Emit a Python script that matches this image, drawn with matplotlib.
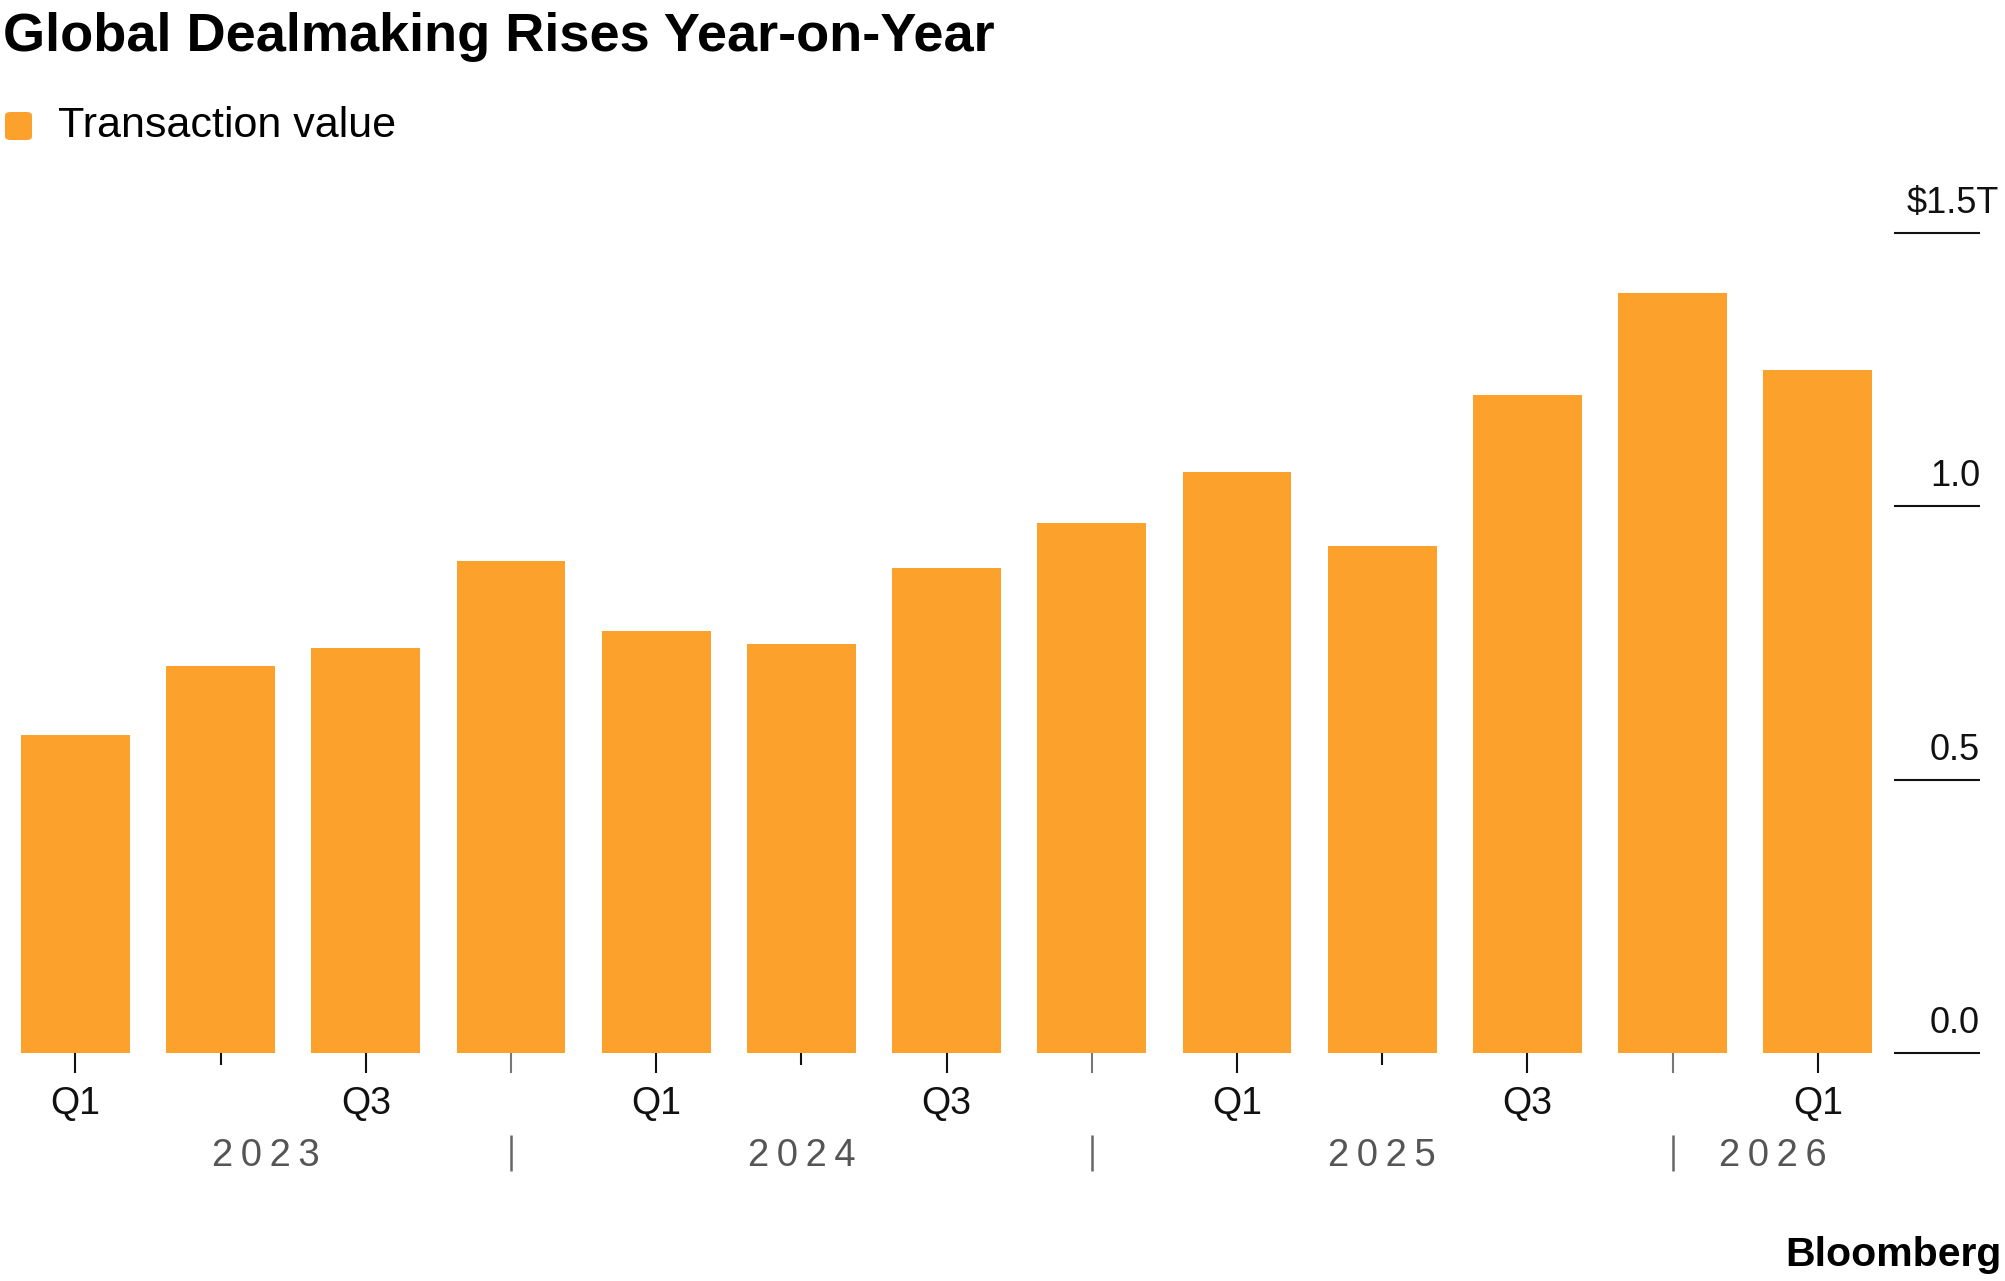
import matplotlib
matplotlib.use("Agg")
import matplotlib.pyplot as plt
from matplotlib.patches import FancyBboxPatch
import numpy as np

plt.rcParams['font.family'] = ['Liberation Sans', 'DejaVu Sans']

# ---- data ----
quarters = ['Q1', 'Q2', 'Q3', 'Q4'] * 3 + ['Q1']
years = [2023] * 4 + [2024] * 4 + [2025] * 4 + [2026]
values = [0.582, 0.708, 0.741, 0.900, 0.772, 0.748, 0.887, 0.969,
          1.063, 0.927, 1.204, 1.390, 1.249]   # $ trillions
y_ticks = [0.0, 0.5, 1.0, 1.5]
y_tick_labels = ['0.0', '0.5', '1.0', '$1.5T']
title = 'Global Dealmaking Rises Year-on-Year'
legend_label = 'Transaction value'
source = 'Bloomberg'

BAR_COLOR = '#FBA12C'
W, H = 2005, 1281
fig = plt.figure(figsize=(W / 100, H / 100), dpi=100)

# pixel geometry (original image coords, y from top)
x0_px, dx_px = 75.4, 145.2        # centre of first bar, spacing
base_px, top_px = 1053, 233       # y=0 and y=1.5
ppu = (base_px - top_px) / 1.5    # pixels per unit value

ax = fig.add_axes([0, (H - base_px) / H, 1, (base_px - top_px) / H])
ax.set_xlim(-x0_px / dx_px, (W - x0_px) / dx_px)
ax.set_ylim(0, 1.5)
ax.axis('off')

def px2x(px):
    return (px - x0_px) / dx_px

def py2y(py):
    return -(py - base_px) / ppu

x = np.arange(len(values))
bw = 0.75
ax.bar(x, values, width=bw, color=BAR_COLOR, linewidth=0)

# right-hand y gridline stubs & labels
for v, lab in zip(y_ticks, y_tick_labels):
    ax.plot([px2x(1894), px2x(1980)], [v, v], color='#111111', lw=1.5,
            solid_capstyle='butt', clip_on=False)
    xr = px2x(1980) if not lab.startswith('$') else px2x(1999)
    ax.text(xr, v + 20 / ppu, lab, ha='right', va='baseline', fontsize=26,
            color='#111111', clip_on=False)

# x ticks
for i, q in enumerate(quarters):
    if q == 'Q2':
        y_end, col = py2y(1065), '#111111'
    elif q == 'Q4':
        y_end, col = py2y(1073), '#777777'
    else:
        y_end, col = py2y(1073), '#111111'
    ax.plot([i, i], [0, y_end], color=col, lw=1.5, solid_capstyle='butt',
            clip_on=False)
    if q in ('Q1', 'Q3'):
        ax.text(i, py2y(1114), q, ha='center', va='baseline', fontsize=27,
                color='#111111', clip_on=False)

# year labels and separators
uniq_years = []
for yv in years:
    if yv not in uniq_years:
        uniq_years.append(yv)
boundaries = []
for k, yv in enumerate(uniq_years):
    idx = [i for i, yy in enumerate(years) if yy == yv]
    left = -bw / 2 if k == 0 else boundaries[-1]
    if k < len(uniq_years) - 1:
        right = idx[-1]
        boundaries.append(right)
        ax.plot([right, right], [py2y(1135), py2y(1171)], color='#666666',
                lw=1.8, solid_capstyle='butt', clip_on=False)
    else:
        right = idx[-1] + bw / 2
    label = '\u2009'.join(str(yv))
    ax.text((left + right) / 2, py2y(1166), label, ha='center', va='baseline',
            fontsize=27.5, color='#555555', clip_on=False)

# title, legend, source
def fx(px):
    return px / W

def fy(py):
    return 1 - py / H

fig.text(fx(3), fy(51), title, ha='left', va='baseline', fontsize=39,
         fontweight='bold', color='#000000')

sq = FancyBboxPatch((fx(5), fy(140)), fx(27), 28 / H,
                    boxstyle='round,pad=0,rounding_size=0.0028',
                    transform=fig.transFigure, facecolor=BAR_COLOR,
                    edgecolor='none')
fig.patches.append(sq)
fig.text(fx(58), fy(137), legend_label, ha='left', va='baseline', fontsize=31,
         color='#000000')

fig.text(fx(2001), fy(1266), source, ha='right', va='baseline', fontsize=29.5,
         fontweight='bold', color='#000000')

fig.savefig('out.png', dpi=100, facecolor='white')
